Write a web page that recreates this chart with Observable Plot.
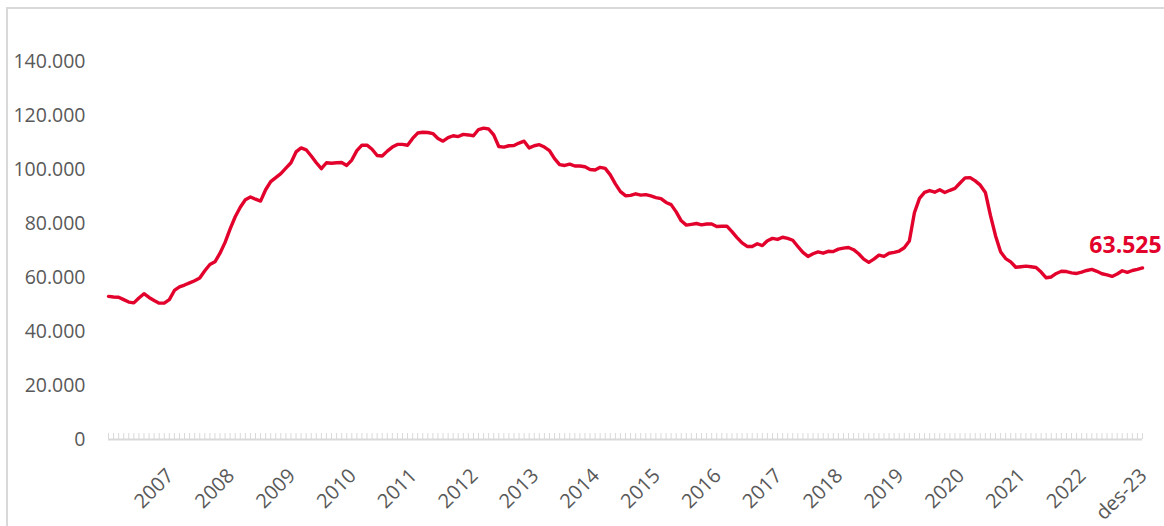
<!DOCTYPE html>
<html><head><meta charset="utf-8">
<script src="https://cdn.jsdelivr.net/npm/d3@7"></script>
<script src="https://cdn.jsdelivr.net/npm/@observablehq/plot@0.6"></script>
<style>
html,body{margin:0;padding:0;background:#fff;overflow:hidden;width:1164px;height:526px;}
#frame{position:absolute;left:6px;top:7px;width:1300px;height:700px;border-left:2px solid #d9d9d9;border-top:2px solid #d9d9d9;}
#chart{position:absolute;left:0;top:0;}
</style></head><body><div id="frame"></div><div id="chart"></div>
<script>
// Monthly values, des-06 .. des-23
const values = [
 53000,52800,52700,51800,50900,50600,52400,54000,52600,51500,50500,50500,
 51800,55200,56500,57200,58000,58800,59800,62500,64800,65800,69000,73000,
 78000,82500,86000,88800,89800,89000,88300,92500,95500,97000,98500,100500,
 102500,106500,108000,107300,105000,102500,100300,102500,102300,102500,102600,101500,
 103500,107000,109000,109000,107500,105200,105000,106800,108300,109300,109300,109000,
 111500,113500,113800,113700,113300,111500,110500,111800,112500,112200,113000,112800,
 112500,114800,115300,115000,112800,108500,108300,108800,108900,109800,110500,108000,
 108800,109200,108300,107000,104000,101800,101500,102000,101300,101300,101000,100000,
 99800,100800,100400,98000,94700,91800,90300,90400,91000,90500,90700,90200,
 89600,89200,87800,87000,84300,81000,79400,79700,80000,79500,79800,79800,
 78900,79000,79000,77000,74800,72800,71500,71500,72500,71800,73600,74500,
 74100,74900,74500,73800,71500,69300,67800,68800,69500,69000,69700,69600,
 70500,70900,71100,70300,68800,66800,65600,66800,68300,67800,69000,69300,
 69800,71000,73500,84000,89300,91500,92200,91600,92500,91500,92300,93000,
 95000,96900,97000,95800,94200,91500,83000,75500,69500,67000,65800,63800,
 64000,64200,64000,63700,62000,59900,60200,61500,62300,62200,61700,61500,
 62000,62600,63000,62300,61400,61000,60400,61300,62500,61900,62600,63000,
 63525
];
const yTicks = [0,20000,40000,60000,80000,100000,120000,140000];
const xLabels = ["2007","2008","2009","2010","2011","2012","2013","2014","2015","2016","2017","2018","2019","2020","2021","2022","des-23"];
const xLabelIndex = [12,24,36,48,60,72,84,96,108,120,132,144,156,168,180,192,204];

const red = "#e2022c";
const grey = "#595959";
const fmt = d3.formatLocale({decimal: ",", thousands: ".", grouping: [3], currency: ["", ""]}).format(",");
const last = values.length - 1;

const plot = Plot.plot({
  width: 1164, height: 526,
  marginLeft: 108, marginRight: 22, marginTop: 61, marginBottom: 87,
  style: {fontFamily: "'Open Sans', sans-serif", background: "transparent", color: grey},
  x: {domain: [0, last], axis: null},
  y: {domain: [0, 140000], axis: null},
  marks: [
    Plot.axisY(yTicks, {tickSize: 0, tickPadding: 23, tickFormat: fmt, fontSize: 19.5, fill: grey}),
    Plot.ruleY([0], {stroke: "#d9d9d9", strokeWidth: 2}),
    Plot.axisX(d3.range(values.length), {tickSize: 6, dy: -6, tickFormat: () => "", stroke: "#d9d9d9"}),
    Plot.text(xLabelIndex, {x: d => d, y: 0, text: (d, i) => xLabels[i], rotate: -45, textAnchor: "end", lineAnchor: "middle", dx: 1, dy: 33, fill: grey, fontSize: 20}),
    Plot.line(values, {x: (d, i) => i, y: d => d, stroke: red, strokeWidth: 3.4, strokeLinejoin: "round"}),
    Plot.text([last], {x: d => d, y: d => values[d], text: d => fmt(values[d]), dx: -17, dy: -22, fill: red, fontWeight: "bold", fontSize: 23})
  ]
});
document.getElementById("chart").appendChild(plot);
</script></body></html>
